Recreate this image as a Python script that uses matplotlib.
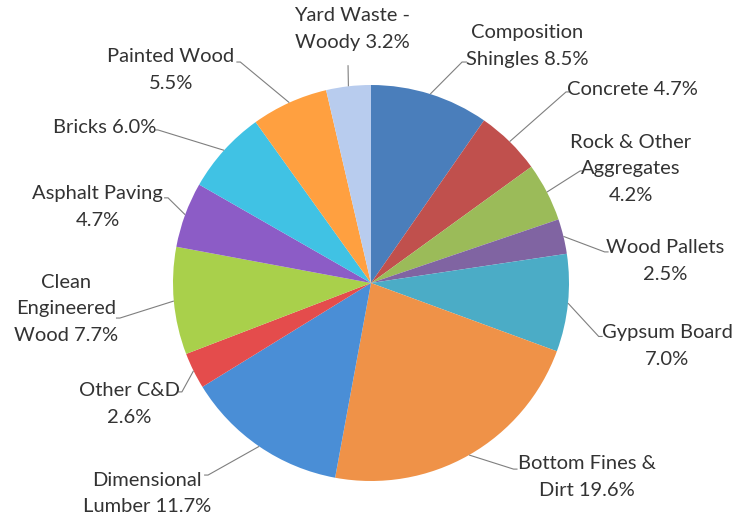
import numpy as np
import matplotlib
matplotlib.use("Agg")
import matplotlib.pyplot as plt

categories = ["Composition\nShingles", "Concrete", "Rock & Other\nAggregates", "Wood Pallets",
              "Gypsum Board", "Bottom Fines &\nDirt", "Dimensional\nLumber", "Other C&D",
              "Clean\nEngineered\nWood", "Asphalt Paving", "Bricks", "Painted Wood",
              "Yard Waste -\nWoody"]
values = [8.5, 4.7, 4.2, 2.5, 7.0, 19.6, 11.7, 2.6, 7.7, 4.7, 6.0, 5.5, 3.2]
label_texts = ["Composition\nShingles 8.5%", "Concrete 4.7%", "Rock & Other\nAggregates\n4.2%",
               "Wood Pallets\n2.5%", "Gypsum Board\n7.0%", "Bottom Fines &\nDirt 19.6%",
               "Dimensional\nLumber 11.7%", "Other C&D\n2.6%", "Clean\nEngineered\nWood 7.7%",
               "Asphalt Paving\n4.7%", "Bricks 6.0%", "Painted Wood\n5.5%", "Yard Waste -\nWoody 3.2%"]
colors = ["#4a7ebb", "#c0504d", "#9bbb59", "#8064a2", "#4bacc6", "#ef9248", "#4a8ed6",
          "#e44c4c", "#a9d04b", "#8c5cc6", "#40c2e4", "#ffa040", "#b8ccee"]

# layout: text centers, leader elbows and stub direction (pie radius = 1)
text_pos = [(0.788, 1.197), (1.318, 0.975), (1.313, 0.576), (1.485, 0.111), (1.495, -0.318),
            (1.091, -0.98), (-1.131, -1.061), (-1.222, -0.611), (-1.540, -0.131), (-1.38, 0.384),
            (-1.343, 0.783), (-1.010, 1.076), (-0.096, 1.283)]
leader_end = [(0.46, 1.116), (0.985, 0.965), (1.056, 0.566), (1.18, 0.157), (1.15, -0.27),
              (0.72, -0.94), (-0.823, -0.97), (-0.955, -0.55), (-1.268, -0.177), (-1.025, 0.43),
              (-1.076, 0.773), (-0.66, 1.116), (-0.116, 1.10)]
stub = [0.025, 0.02, 0.02, 0.02, 0.02, 0.02, -0.02, -0.02, -0.02, -0.02, -0.02, -0.02, 0.0]

fig = plt.figure(figsize=(7.35, 5.16), dpi=100)
ax = fig.add_axes([0, 0, 1, 1])
wedges, _ = ax.pie(values, colors=colors, startangle=90, counterclock=False, radius=1.0,
                   wedgeprops=dict(linewidth=0))
ax.set_xlim(-371 / 198, (735 - 371) / 198)
ax.set_ylim(-(516 - 283) / 198, 283 / 198)
ax.set_aspect("equal")
ax.axis("off")

for w, txt, tp, le, st in zip(wedges, label_texts, text_pos, leader_end, stub):
    ang = np.deg2rad((w.theta1 + w.theta2) / 2)
    sx, sy = np.cos(ang), np.sin(ang)
    ax.plot([sx, le[0], le[0] + st], [sy, le[1], le[1]], color="#7f7f7f", lw=0.8,
            solid_capstyle="butt", solid_joinstyle="miter")
    ax.text(tp[0], tp[1], txt, ha="center", va="center", multialignment="center",
            fontsize=14.5, family="Lato", color="#333333", linespacing=1.65)

fig.savefig("out.png", dpi=100, facecolor="white")
